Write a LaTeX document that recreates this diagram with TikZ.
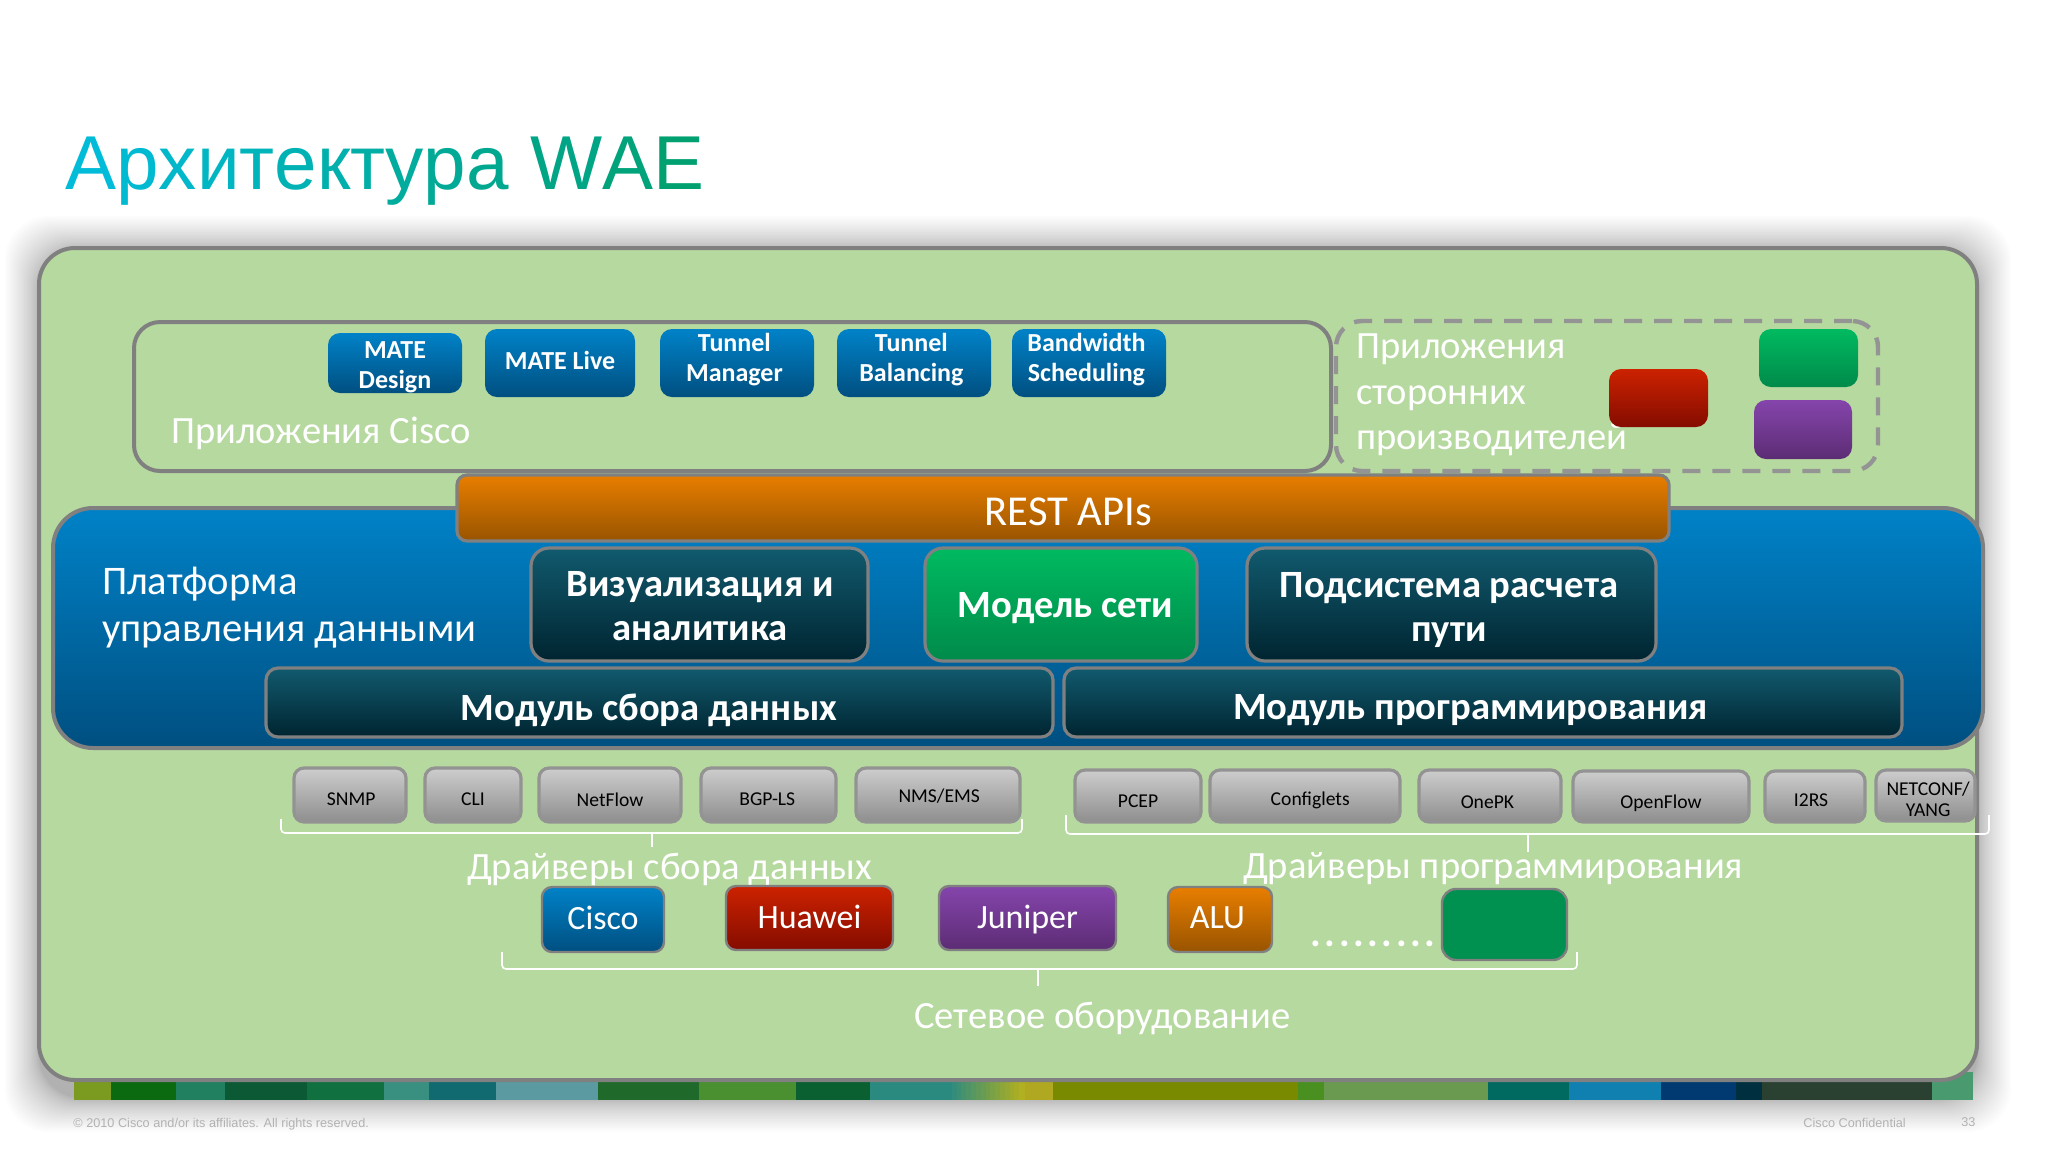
\documentclass[tikz,border=0pt]{standalone}
\usepackage{fontspec}
\setmainfont{Carlito}
\newfontfamily\arialf{Liberation Sans}
\definecolor{bggreen}{HTML}{B6D99F}
\definecolor{edgegray}{HTML}{808080}
\definecolor{titleA}{HTML}{00BCD8}
\definecolor{titleB}{HTML}{00A070}
\definecolor{blueT}{HTML}{0082C8}
\definecolor{blueB}{HTML}{004F80}
\definecolor{darkT}{HTML}{115A6E}
\definecolor{darkB}{HTML}{002430}
\definecolor{greenT}{HTML}{00BA60}
\definecolor{greenB}{HTML}{008A4A}
\definecolor{redT}{HTML}{CC2200}
\definecolor{redB}{HTML}{840C00}
\definecolor{purpT}{HTML}{8545AC}
\definecolor{purpB}{HTML}{5C2C74}
\definecolor{orT}{HTML}{E87E00}
\definecolor{orB}{HTML}{985400}
\definecolor{grayT}{HTML}{CDCDCD}
\definecolor{grayB}{HTML}{8E8E8E}
\definecolor{stripA}{HTML}{2A8A80}
\definecolor{stripB}{HTML}{B0B020}
\definecolor{stripC}{HTML}{4A9A70}
\definecolor{vgreencol}{HTML}{009050}
\newcommand{\bx}[7]{%
  \pgfmathsetmacro{\bw}{(#4-#2)*0.5}\pgfmathsetmacro{\bh}{(#5-#3)*0.5}%
  \node[boxbase,#6,minimum width=\bw pt,minimum height=\bh pt] (#1) at ({(#2+#4)/2},{(#3+#5)/2}) {#7};}
\newcommand{\brc}[7]{%
  \coordinate (#1a) at (#2,#4);\coordinate (#1b) at (#2,#5);\coordinate (#1c) at (#3,#5);\coordinate (#1d) at (#3,#4);
  \coordinate (#1m) at (#6,#5);\coordinate (#1e) at (#6,#7);
  \draw[bracel,rounded corners=2pt] (#1a) -- (#1b) -- (#1c) -- (#1d);
  \draw[bracel] (#1m) -- (#1e);}
\newcommand{\tl}[2]{\textcolor{titleB!#1!titleA}{#2}}
% true visual shift of a text inside its node: right by #1 pt, down by #2 pt
\newcommand{\sft}[3]{\kern#1pt\raisebox{-#2pt}[\height][\depth]{#3}\kern-#1pt}
\newcommand{\two}[2]{\begin{tabular}{@{}c@{}}#1\\#2\end{tabular}}
\tikzset{
  boxbase/.style={rectangle,inner sep=0pt,outer sep=0pt,align=center,text=white,rounded corners=6pt,draw=edgegray,line width=1.6pt},
  bluebtn/.style={top color=blueT,bottom color=blueB,draw=none,font=\fontsize{13}{15}\selectfont\bfseries,rounded corners=6pt},
  darkbox/.style={top color=darkT,bottom color=darkB,font=\fontsize{19.3}{22}\selectfont\bfseries,rounded corners=9pt},
  greenbox/.style={top color=greenT,bottom color=greenB},
  redbox/.style={top color=redT,bottom color=redB},
  purplebox/.style={top color=purpT,bottom color=purpB},
  orangebox/.style={top color=orT,bottom color=orB},
  graybox/.style={top color=grayT,bottom color=grayB,draw=gray!85,text=black,font=\fontsize{9.8}{10.8}\selectfont,rounded corners=5pt},
  vendor/.style={font=\fontsize{17}{20}\selectfont,rounded corners=5pt,line width=1.2pt},
  lbl/.style={text=white,inner sep=0pt,outer sep=0pt,font=\fontsize{19.3}{23}\selectfont},
  bracel/.style={draw=white,line width=0.8pt},
  foot/.style={text=black!30,inner sep=0pt,font=\arialf\fontsize{6.35}{8}\selectfont},
}
\begin{document}
\begin{tikzpicture}[x=0.5pt,y=-0.5pt]
\useasboundingbox (0,0) rectangle (2048,1153);
\fill[white] (0,0) rectangle (2048,1153);
% shadow of the panel
\foreach \i in {1,...,26}{
  \pgfmathsetmacro{\ee}{34*pow((27-\i)/26,1.5)}
  \fill[black,opacity=0.011,rounded corners=22pt]
    ({39-\ee},{250-\ee}) rectangle ({1977+\ee},{1098+\ee});
}
% colour strip
\foreach \a/\b/\cc in {74/111/7A9A20,111/176/0B6A10,176/225/208060,225/307/0C5A35,307/384/107040,384/429/3A9080,429/496/106A70,496/598/5A9AA0,598/699/1F6A2A,699/796/4A9030,796/870/0A6030,870/947/2A8A80,1024/1053/B0A820,1053/1298/7A8A00,1298/1324/4A9020,1324/1488/6A9A50,1488/1569/006A60,1569/1661/1080B0,1661/1736/003A70,1736/1762/003040,1762/1932/2A4030,1932/1973/4A9A70}{
  \definecolor{seg}{HTML}{\cc}
  \fill[seg] (\a,1078) rectangle (\b,1100);
}
\foreach \k in {0,...,15}{
  \pgfmathsetmacro{\mx}{\k*100/15}
  \fill[stripB!\mx!stripA] ({947+\k*4.8125},1078) rectangle ({947+(\k+1)*4.8125+0.5},1100);
}
\fill[stripC] (1932,1072) rectangle (1973,1100);
% main panel
\bx{panel}{39}{248}{1977}{1080}{fill=bggreen,rounded corners=18pt,line width=2pt}{}
% title
\node[anchor=base west,inner sep=0pt,font=\arialf\fontsize{38.2}{40}\selectfont] (title) at (65,189)
 {\tl{0}{А}\tl{7}{р}\tl{14}{х}\tl{21}{и}\tl{28}{т}\tl{35}{е}\tl{42}{к}\tl{49}{т}\tl{56}{у}\tl{63}{р}\tl{70}{а} \tl{80}{W}\tl{90}{A}\tl{100}{E}};
% application groups
\bx{ciscoapps}{134}{322}{1331}{471}{rounded corners=13pt,line width=2pt}{}
\bx{thirdapps}{1336}{321}{1878}{471}{rounded corners=13pt,line width=2.2pt,dash pattern=on 9pt off 6pt,draw=black!42}{}
\bx{mated}{328}{333}{462}{393}{bluebtn}{\sft{0}{2}{\two{MATE}{Design}}}
\bx{matel}{485}{329}{635}{397}{bluebtn}{\sft{0}{-1.3}{MATE Live}}
\bx{tunm}{660}{329}{814}{397}{bluebtn}{\sft{-1.3}{-1.3}{\two{Tunnel}{Manager}}}
\bx{tunb}{837}{329}{991}{397}{bluebtn}{\sft{-1.3}{-1.3}{\two{Tunnel}{Balancing}}}
\bx{bandw}{1012}{329}{1166}{397}{bluebtn}{\sft{-1.3}{-1.3}{\two{Bandwidth}{Scheduling}}}
\node[lbl,anchor=base west] (ciscolbl) at (171,443) {Приложения Cisco};
\node[lbl,anchor=west,align=left] (thirdlbl) at (1356,395) {Приложения\\[-0.2pt]сторонних\\[-0.2pt]производителей};
\bx{green1}{1759}{329}{1858}{387}{greenbox,draw=none}{}
\bx{red1}{1609}{369}{1708}{427}{redbox,draw=none}{}
\bx{purple1}{1754}{400}{1852}{459}{purplebox,draw=none}{}
% platform
\bx{platform}{53}{508}{1983}{748}{top color=blueT,bottom color=blueB,rounded corners=20pt,line width=2pt}{}
\bx{rest}{457}{475}{1669}{541}{orangebox,rounded corners=5pt,font=\fontsize{21.3}{24}\selectfont}{\sft{2.6}{2}{REST APIs}}
\node[lbl,anchor=west,align=left,font=\fontsize{20.3}{23.5}\selectfont] (platlbl) at (102,608) {Платформа\\управления данными};
\bx{viz}{531}{548}{868}{661}{darkbox}{\sft{0.3}{2.7}{\two{Визуализация и}{аналитика}}}
\bx{model}{925}{548}{1197}{661}{greenbox,rounded corners=9pt,font=\fontsize{19.3}{22}\selectfont\bfseries}{\sft{2.3}{2}{Модель сети}}
\bx{path}{1247}{548}{1656}{661}{darkbox}{\sft{-1.3}{3.3}{\two{Подсистема расчета}{пути}}}
\bx{collect}{266}{668}{1053}{737}{darkbox,rounded corners=6pt}{\sft{-5.2}{3.9}{Модуль сбора данных}}
\bx{program}{1064}{668}{1902}{737}{darkbox,rounded corners=6pt}{\sft{-6.2}{3.9}{Модуль программирования}}
% drivers
\bx{snmp}{294}{768}{406}{822}{graybox}{\sft{0.6}{2}{SNMP}}
\bx{cli}{425}{768}{521}{822}{graybox}{\sft{0}{2}{CLI}}
\bx{netflow}{539}{768}{681}{822}{graybox}{\sft{0}{2.6}{NetFlow}}
\bx{bgp}{701}{768}{836}{822}{graybox}{\sft{-0.6}{2}{BGP-LS}}
\bx{nms}{856}{768}{1020}{822}{graybox}{\sft{0.6}{0.7}{NMS/EMS}}
\bx{pcep}{1075}{770}{1201}{822}{graybox}{\sft{0}{2.6}{PCEP}}
\bx{configlets}{1210}{770}{1400}{822}{graybox}{\sft{2.6}{2}{Configlets}}
\bx{onepk}{1419}{770}{1561}{822}{graybox}{\sft{-1.3}{3.3}{OnePK}}
\bx{openflow}{1573}{771}{1749}{822}{graybox}{\sft{0}{3.3}{OpenFlow}}
\bx{itrs}{1765}{771}{1865}{822}{graybox}{\sft{-2}{2}{I2RS}}
\bx{netconf}{1876}{770}{1975}{821}{graybox}{\sft{1.3}{3}{\two{NETCONF/}{YANG}}}
\brc{bl}{281}{1022}{819}{833}{652}{847}
\brc{br}{1066}{1989}{815}{834}{1528}{852}
\node[lbl,anchor=base west] (drvc) at (467,879) {Драйверы сбора данных};
\node[lbl,anchor=base west] (drvp) at (1243,878) {Драйверы программирования};
% vendors
\bx{vcisco}{542}{887}{664}{952}{vendor,top color=blueT,bottom color=blueB}{\sft{0}{-0.7}{Cisco}}
\bx{vhuawei}{726}{886}{893}{950}{vendor,redbox}{\sft{0}{-0.7}{Huawei}}
\bx{vjuniper}{939}{886}{1116}{950}{vendor,purplebox}{\sft{0}{0.7}{Juniper}}
\bx{valu}{1168}{887}{1272}{952}{vendor,orangebox}{\sft{-1.3}{-0.7}{ALU}}
\bx{vgreen}{1442}{889}{1567}{960}{vendor,fill=vgreencol,rounded corners=7pt}{}
\node[lbl,anchor=base,font=\fontsize{20}{22}\selectfont\bfseries\addfontfeature{LetterSpace=9}] (vdots) at (1373,946) {.........};
\brc{bv}{502}{1577}{952}{969}{1038}{986}
\node[lbl,anchor=base west] (netlbl) at (914,1028) {Сетевое оборудование};
% footer
\node[foot,anchor=base west] (copy) at (73,1127) {© 2010 Cisco and/or its affiliates. All rights reserved.};
\node[foot,anchor=base west] (conf) at (1803,1127) {Cisco Confidential};
\node[foot,anchor=base west] (pgn) at (1961,1126) {33};
\end{tikzpicture}
\end{document}
